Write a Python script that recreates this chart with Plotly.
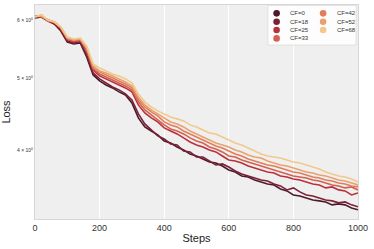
import plotly.graph_objects as go

steps = list(range(0, 1001, 20))

cf_labels = ["CF=0", "CF=18", "CF=25", "CF=33", "CF=42", "CF=52", "CF=68"]
colors = ["#4b1a2c", "#7d2034", "#b9303b", "#d5604f", "#e07e5c", "#e9a26f", "#f2c98c"]

loss_cf0 = [6.038, 6.057, 5.981, 5.926, 5.798, 5.603, 5.568, 5.585, 5.347, 5.055, 4.962, 4.900, 4.855, 4.795, 4.750, 4.633, 4.421, 4.299, 4.245, 4.193, 4.115, 4.089, 4.038, 4.001, 3.951, 3.926, 3.890, 3.854, 3.842, 3.806, 3.759, 3.735, 3.689, 3.677, 3.643, 3.621, 3.598, 3.587, 3.543, 3.521, 3.477, 3.466, 3.445, 3.423, 3.413, 3.402, 3.371, 3.381, 3.371, 3.339, 3.319]
loss_cf18 = [6.076, 6.057, 6.000, 5.926, 5.816, 5.620, 5.585, 5.603, 5.380, 5.087, 4.993, 4.931, 4.870, 4.825, 4.765, 4.677, 4.477, 4.339, 4.259, 4.180, 4.141, 4.076, 4.064, 3.988, 3.976, 3.914, 3.914, 3.866, 3.818, 3.830, 3.794, 3.747, 3.712, 3.689, 3.666, 3.643, 3.632, 3.598, 3.576, 3.532, 3.554, 3.510, 3.477, 3.466, 3.445, 3.423, 3.413, 3.392, 3.402, 3.371, 3.350]
loss_cf25 = [6.057, 6.076, 5.981, 5.944, 5.834, 5.655, 5.603, 5.638, 5.448, 5.135, 5.040, 4.993, 4.946, 4.900, 4.855, 4.795, 4.604, 4.491, 4.421, 4.366, 4.285, 4.245, 4.206, 4.154, 4.102, 4.064, 4.038, 4.001, 3.976, 3.926, 3.878, 3.866, 3.842, 3.806, 3.782, 3.759, 3.735, 3.724, 3.689, 3.677, 3.655, 3.643, 3.621, 3.598, 3.587, 3.554, 3.565, 3.532, 3.521, 3.477, 3.499]
loss_cf33 = [6.076, 6.057, 6.000, 5.963, 5.852, 5.655, 5.620, 5.638, 5.465, 5.151, 5.071, 5.024, 4.977, 4.931, 4.885, 4.825, 4.648, 4.533, 4.463, 4.394, 4.326, 4.272, 4.245, 4.206, 4.154, 4.115, 4.089, 4.038, 4.013, 3.976, 3.926, 3.914, 3.878, 3.854, 3.830, 3.806, 3.782, 3.759, 3.735, 3.712, 3.689, 3.677, 3.666, 3.643, 3.632, 3.609, 3.587, 3.576, 3.554, 3.565, 3.532]
loss_cf42 = [6.057, 6.095, 5.981, 5.963, 5.852, 5.673, 5.638, 5.655, 5.499, 5.183, 5.103, 5.055, 5.008, 4.962, 4.916, 4.855, 4.691, 4.576, 4.505, 4.449, 4.366, 4.326, 4.299, 4.245, 4.206, 4.167, 4.128, 4.089, 4.051, 4.026, 3.988, 3.951, 3.926, 3.890, 3.866, 3.842, 3.818, 3.806, 3.782, 3.759, 3.735, 3.724, 3.700, 3.677, 3.666, 3.643, 3.632, 3.609, 3.598, 3.576, 3.565]
loss_cf52 = [6.076, 6.076, 6.000, 5.963, 5.870, 5.673, 5.638, 5.655, 5.499, 5.199, 5.119, 5.087, 5.040, 4.993, 4.946, 4.885, 4.721, 4.604, 4.533, 4.477, 4.421, 4.366, 4.339, 4.299, 4.245, 4.206, 4.167, 4.128, 4.089, 4.064, 4.038, 4.001, 3.976, 3.939, 3.914, 3.902, 3.866, 3.842, 3.818, 3.806, 3.782, 3.759, 3.735, 3.724, 3.700, 3.689, 3.666, 3.643, 3.632, 3.609, 3.587]
loss_cf68 = [6.057, 6.095, 6.000, 5.963, 5.870, 5.690, 5.655, 5.673, 5.533, 5.231, 5.167, 5.119, 5.071, 5.040, 4.993, 4.931, 4.765, 4.648, 4.576, 4.519, 4.477, 4.435, 4.408, 4.380, 4.326, 4.299, 4.259, 4.219, 4.206, 4.167, 4.128, 4.089, 4.064, 4.026, 3.988, 3.951, 3.926, 3.914, 3.902, 3.878, 3.854, 3.842, 3.818, 3.794, 3.770, 3.735, 3.712, 3.689, 3.677, 3.655, 3.621]

series = [loss_cf0, loss_cf18, loss_cf25, loss_cf33, loss_cf42, loss_cf52, loss_cf68]

ytick_vals = [4, 5, 6]
ytick_text = ["4 × 10<sup>0</sup>", "5 × 10<sup>0</sup>", "6 × 10<sup>0</sup>"]
xtick_vals = [0, 200, 400, 600, 800, 1000]

FONT = "Liberation Sans, Arial, sans-serif"

fig = go.Figure()
for name, ys, c in zip(cf_labels, series, colors):
    fig.add_trace(go.Scatter(x=steps, y=ys, mode="lines", name=name,
                             line=dict(color=c, width=1.6), showlegend=False))

# manual compact legend (two columns)
shapes = [dict(type="rect", xref="paper", yref="paper", x0=0.721, x1=0.994, y0=0.813, y1=0.998,
               fillcolor="rgba(255,255,255,0.85)", line=dict(color="#dddddd", width=0.8), layer="above")]
annotations = []
row_y = [0.961, 0.922, 0.883, 0.844]
col_dot = [0.748, 0.892]
col_txt = [0.782, 0.929]
for i, (name, c) in enumerate(zip(cf_labels, colors)):
    col, row = divmod(i, 4)
    shapes.append(dict(type="circle", xref="paper", yref="paper",
                       xsizemode="pixel", ysizemode="pixel",
                       xanchor=col_dot[col], yanchor=row_y[row],
                       x0=-3.3, x1=3.3, y0=-3.3, y1=3.3,
                       fillcolor=c, line=dict(width=0), layer="above"))
    annotations.append(dict(xref="paper", yref="paper", x=col_txt[col], y=row_y[row],
                            text=name, showarrow=False, xanchor="left", yanchor="middle",
                            font=dict(size=6, color="#333333", family=FONT)))

fig.update_layout(
    width=374, height=249,
    margin=dict(l=35, r=16, t=5, b=30),
    paper_bgcolor="white", plot_bgcolor="#efefef",
    font=dict(family=FONT, color="#333333"),
    shapes=shapes, annotations=annotations,
    xaxis=dict(range=[0, 1000], tickvals=xtick_vals, showgrid=True, gridcolor="white", gridwidth=1,
               zeroline=False, showline=True, mirror=True, linecolor="#d6d6d6", linewidth=1,
               ticks="", tickfont=dict(size=9, color="#333333"),
               title=dict(text="Steps", font=dict(size=11, color="#222222"), standoff=2)),
    yaxis=dict(type="log", range=[0.5086, 0.7985], tickvals=ytick_vals, ticktext=ytick_text,
               showgrid=False, zeroline=False, showline=True, mirror=True, linecolor="#d6d6d6",
               linewidth=1, ticks="", tickfont=dict(size=5, color="#333333"),
               title=dict(text="Loss", font=dict(size=11, color="#222222"), standoff=4)),
)

fig.write_html("out.html", config={"displayModeBar": False},
               post_script="document.body.style.margin='0';")
